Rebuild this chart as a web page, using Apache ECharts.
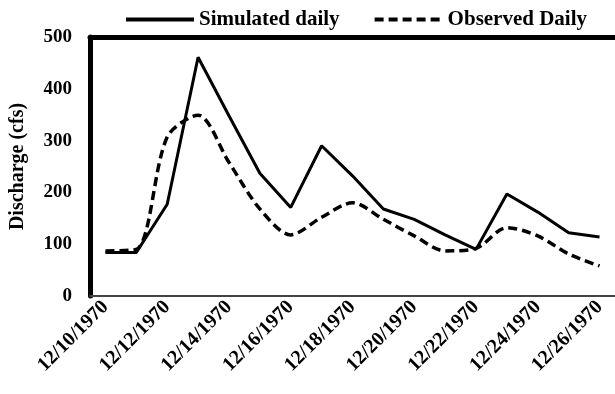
<!DOCTYPE html>
<html>
<head>
<meta charset="utf-8">
<script src="https://cdn.jsdelivr.net/npm/echarts@6/dist/echarts.min.js"></script>
<style>
  html, body {margin: 0; padding: 0; background: #fff;}
  #chart {width: 615px; height: 394px;}
</style>
</head>
<body>
<div id="chart"></div>
<script>
const dates = [
  '12/10/1970', '12/11/1970', '12/12/1970', '12/13/1970', '12/14/1970', '12/15/1970',
  '12/16/1970', '12/17/1970', '12/18/1970', '12/19/1970', '12/20/1970', '12/21/1970',
  '12/22/1970', '12/23/1970', '12/24/1970', '12/25/1970', '12/26/1970'
];
const simulated = [84, 84, 177, 461, 348, 237, 171, 290, 232, 168, 148, 118, 90, 197, 162, 122, 114];
const observed = [87, 90, 307, 349, 258, 168, 118, 152, 180, 148, 116, 87, 92, 132, 116, 81, 58];
const yTicks = {min: 0, max: 500, step: 100};

const serif = '"Liberation Serif", "Times New Roman", serif';

const chart = echarts.init(document.getElementById('chart'));
chart.setOption({
  animation: false,
  legend: {
    left: 124,
    top: 9,
    padding: 0,
    itemWidth: 68,
    itemHeight: 14,
    itemGap: 33,
    itemStyle: {opacity: 0},
    lineStyle: {width: 4},
    textStyle: {fontFamily: serif, fontWeight: 'bold', fontSize: 21, color: '#000'},
    data: ['Simulated daily', 'Observed Daily']
  },
  grid: {left: 90, right: -6, top: 37, bottom: 98},
  xAxis: [
    {
      type: 'category',
      data: dates,
      boundaryGap: true,
      axisLine: {lineStyle: {color: '#444', width: 2}},
      axisTick: {interval: 1, length: 4, lineStyle: {color: '#888'}},
      axisLabel: {
        interval: 1,
        rotate: 45,
        margin: 8,
        fontFamily: serif,
        fontWeight: 'bold',
        fontSize: 20,
        color: '#000'
      }
    },
    {
      type: 'category',
      data: dates,
      position: 'top',
      axisLine: {lineStyle: {color: '#000', width: 5}},
      axisTick: {show: false},
      axisLabel: {show: false}
    }
  ],
  yAxis: {
    type: 'value',
    min: yTicks.min,
    max: yTicks.max,
    interval: yTicks.step,
    name: 'Discharge (cfs)',
    nameLocation: 'middle',
    nameGap: 62,
    nameTextStyle: {fontFamily: serif, fontWeight: 'bold', fontSize: 20, color: '#000'},
    axisLine: {show: true, lineStyle: {color: '#000', width: 5}},
    axisTick: {show: false},
    splitLine: {show: false},
    axisLabel: {margin: 18, fontFamily: serif, fontWeight: 'bold', fontSize: 19, color: '#000'}
  },
  series: [
    {
      name: 'Simulated daily',
      type: 'line',
      data: simulated,
      symbol: 'none',
      itemStyle: {color: '#000'},
      lineStyle: {color: '#000', width: 3}
    },
    {
      name: 'Observed Daily',
      type: 'line',
      data: observed,
      symbol: 'none',
      smooth: 0.3,
      itemStyle: {color: '#000'},
      lineStyle: {color: '#000', width: 3.5, type: [9, 5]}
    }
  ]
});
</script>
</body>
</html>
